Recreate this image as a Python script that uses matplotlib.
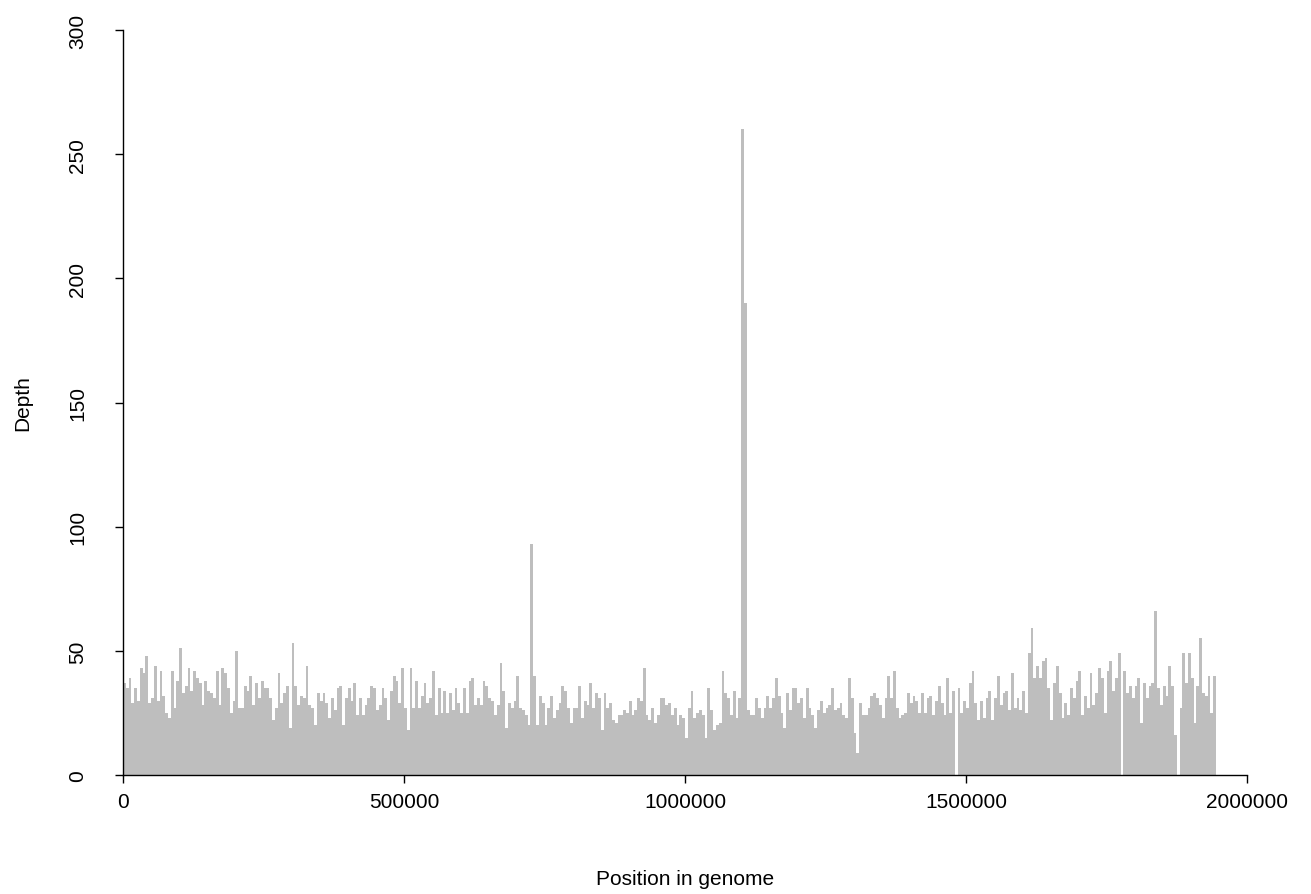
import numpy as np
import matplotlib
matplotlib.use('Agg')
import matplotlib.pyplot as plt

# read depth, one value per 5 kb window along the genome
binSize = 5000
depth = [
	37, 35, 39, 29, 35, 30, 43, 41, 48, 29, 31, 44, 30, 42, 32, 25, 23, 42, 27, 38,
	51, 33, 36, 43, 34, 42, 39, 37, 28, 38, 34, 33, 31, 42, 28,
	43, 41, 35, 25, 30, 50, 27, 27, 36, 34, 40, 28, 37, 31, 38, 35, 35, 31, 22, 27,
	41, 29, 33, 36, 19, 53, 36, 28, 32, 31, 44, 28, 27, 20, 33,
	30, 33, 29, 23, 31, 26, 35, 36, 20, 31, 35, 30, 37, 24, 31, 24, 28, 31, 36, 35,
	26, 28, 35, 31, 22, 34, 40, 38, 29, 43, 27, 18, 43, 27, 38, 27,
	32, 37, 29, 31, 42, 24, 35, 25, 34, 25, 33, 26, 35, 29, 25, 35, 25, 38, 39, 28,
	31, 28, 38, 36, 31, 30, 24, 28, 45, 34, 19, 29, 27, 30, 40,
	27, 26, 24, 20, 93, 40, 20, 32, 29, 20, 27, 32, 23, 26, 29, 36, 34, 27, 21, 27,
	27, 36, 23, 30, 28, 37, 27, 33, 31, 18, 33, 27, 29, 22, 21, 24,
	24, 26, 25, 30, 24, 26, 31, 30, 43, 24, 22, 27, 21, 24, 31, 31, 28, 29, 24, 27,
	20, 24, 23, 15, 27, 34, 23, 25, 26, 24, 15, 35, 26, 18, 20, 21,
	42, 33, 31, 24, 34, 23, 31, 260, 190, 26, 24, 24, 31, 27, 23, 27, 32, 27, 31, 39,
	32, 25, 19, 33, 26, 35, 35, 29, 31, 23, 35, 27, 24, 19, 26,
	30, 25, 27, 28, 35, 26, 27, 29, 24, 23, 39, 31, 17, 9, 29, 24, 24, 27, 32, 33,
	31, 28, 23, 31, 40, 31, 42, 27, 23, 24, 25, 33, 29, 32, 30, 25,
	33, 25, 31, 32, 24, 30, 36, 29, 24, 39, 25, 34, 0, 35, 25, 30, 27, 37, 42, 29,
	22, 30, 23, 31, 34, 22, 31, 40, 28, 33, 34, 26, 41, 27, 31,
	26, 34, 25, 49, 59, 39, 44, 39, 46, 47, 35, 22, 37, 44, 33, 23, 29, 24, 35, 31,
	38, 42, 24, 32, 27, 41, 28, 33, 43, 39, 25, 42, 46, 34, 39, 49,
	0, 42, 33, 36, 31, 36, 39, 21, 37, 31, 36, 37, 66, 35, 28, 36, 32, 44, 36, 16,
	0, 27, 49, 37, 49, 39, 21, 36, 55, 33, 32, 40, 25, 40,
]
xTicks = [0, 500000, 1000000, 1500000, 2000000]
yTicks = [0, 50, 100, 150, 200, 250, 300]

plt.rcParams['font.family'] = ['Liberation Sans', 'DejaVu Sans']
fig = plt.figure(figsize = (13.11, 8.95), dpi = 100)
ax = fig.add_axes([123 / 1311, 1 - 776 / 895, 1124 / 1311, 745 / 895])

pos = np.arange(len(depth)) * binSize
ax.bar(pos, depth, width = binSize, align = 'edge', color = '#bebebe', linewidth = 0)

ax.set_xlim(0, 2000000)
ax.set_ylim(0, 300)
ax.set_xticks(xTicks)
ax.set_xticklabels([str(t) for t in xTicks])
ax.set_yticks(yTicks)
ax.set_yticklabels([str(t) for t in yTicks], rotation = 90, va = 'center')
for s in ['top', 'right']:
	ax.spines[s].set_visible(False)
for s in ['left', 'bottom']:
	ax.spines[s].set_linewidth(1.0)
ax.tick_params(axis = 'both', direction = 'out', length = 6, width = 1.0, labelsize = 15)
ax.tick_params(axis = 'x', pad = 6)
ax.tick_params(axis = 'y', pad = 20)
ax.set_xlabel('Position in genome', fontsize = 15, labelpad = 42)
ax.set_ylabel('Depth', fontsize = 15, labelpad = 26)

fig.savefig('out.png', dpi = 100)
